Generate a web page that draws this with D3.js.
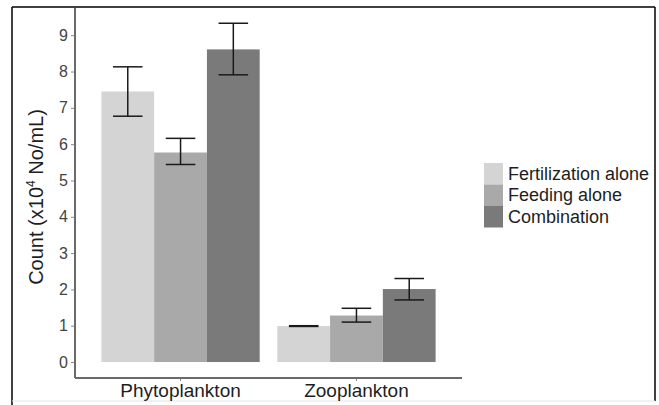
<!DOCTYPE html>
<html>
<head>
<meta charset="utf-8">
<script src="https://cdn.jsdelivr.net/npm/d3@7"></script>
<style>
  body { margin: 0; background: #fff; }
  text { font-family: Arial, "Liberation Sans", sans-serif; }
</style>
</head>
<body>
<div id="chart"></div>
<script>
const categories = ['Phytoplankton', 'Zooplankton'];
const seriesNames = ['Fertilization alone', 'Feeding alone', 'Combination'];
const meanValues = [
  [7.45, 5.77, 8.61],
  [0.99, 1.28, 2.01]
];
const lowValues = [
  [6.77, 5.44, 7.91],
  [0.98, 1.10, 1.71]
];
const highValues = [
  [8.13, 6.16, 9.33],
  [1.00, 1.48, 2.30]
];
const yTicks = [0, 1, 2, 3, 4, 5, 6, 7, 8, 9];
const fills = ['#d4d4d4', '#a9a9a9', '#7a7a7a'];

const width = 659, height = 405;
const svg = d3.select('#chart').append('svg')
    .attr('width', width)
    .attr('height', height);

// frame round the figure
svg.append('line').attr('x1', 12).attr('x2', 655).attr('y1', 7).attr('y2', 7)
  .attr('stroke', '#000').attr('stroke-width', 1.5);
svg.append('line').attr('x1', 12).attr('x2', 12).attr('y1', 7).attr('y2', 405)
  .attr('stroke', '#000').attr('stroke-width', 1.5);
svg.append('line').attr('x1', 655).attr('x2', 655).attr('y1', 7).attr('y2', 401)
  .attr('stroke', '#000').attr('stroke-width', 1.5);
svg.append('line').attr('x1', 12).attr('x2', 655).attr('y1', 401).attr('y2', 401)
  .attr('stroke', '#e4e4e4').attr('stroke-width', 1);

// scales
const x = d3.scaleBand()
  .domain(categories)
  .range([75, 462])
  .paddingInner(0.1)
  .paddingOuter(0.15);

const xs = d3.scaleBand()
  .domain(seriesNames)
  .range([0, x.bandwidth()]);

const y = d3.scaleLinear()
  .domain([-0.44, 9.75])
  .range([378, 8]);

// bars
const groups = svg.append('g')
  .selectAll('g')
  .data(categories)
  .enter().append('g')
    .attr('transform', d => `translate(${x(d)},0)`);

groups.each(function(cat, ci) {
  const g = d3.select(this);
  const rows = seriesNames.map((s, si) => ({
    s, si,
    mean: meanValues[ci][si],
    lo: lowValues[ci][si],
    hi: highValues[ci][si]
  }));

  g.selectAll('rect')
    .data(rows)
    .enter().append('rect')
      .attr('x', d => xs(d.s))
      .attr('width', xs.bandwidth())
      .attr('y', d => y(d.mean))
      .attr('height', d => y(0) - y(d.mean))
      .attr('fill', d => fills[d.si]);

  const capHalf = xs.bandwidth() * 0.28;
  const err = g.selectAll('g.err')
    .data(rows)
    .enter().append('g')
      .attr('class', 'err')
      .attr('stroke', '#1a1a1a')
      .attr('stroke-width', 1.5);

  err.append('line')
    .attr('x1', d => xs(d.s) + xs.bandwidth() / 2)
    .attr('x2', d => xs(d.s) + xs.bandwidth() / 2)
    .attr('y1', d => y(d.lo))
    .attr('y2', d => y(d.hi));
  err.append('line')
    .attr('x1', d => xs(d.s) + xs.bandwidth() / 2 - capHalf)
    .attr('x2', d => xs(d.s) + xs.bandwidth() / 2 + capHalf)
    .attr('y1', d => y(d.hi))
    .attr('y2', d => y(d.hi));
  err.append('line')
    .attr('x1', d => xs(d.s) + xs.bandwidth() / 2 - capHalf)
    .attr('x2', d => xs(d.s) + xs.bandwidth() / 2 + capHalf)
    .attr('y1', d => y(d.lo))
    .attr('y2', d => y(d.lo));
});

// y axis
const yAxis = svg.append('g')
  .attr('transform', 'translate(75,0)')
  .call(d3.axisLeft(y).tickValues(yTicks).tickSize(4).tickPadding(3));
yAxis.select('.domain').remove();
yAxis.selectAll('.tick line').attr('stroke', '#888').attr('stroke-width', 1);
yAxis.selectAll('.tick text')
  .attr('fill', '#444')
  .style('font-size', '16px')
  .style('font-family', 'Arial, "Liberation Sans", sans-serif');
svg.append('line')
  .attr('x1', 75).attr('x2', 75)
  .attr('y1', y.range()[1]).attr('y2', y.range()[0])
  .attr('stroke', '#6a6a6a').attr('stroke-width', 2);

// x axis
const xAxis = svg.append('g')
  .attr('transform', 'translate(0,378)')
  .call(d3.axisBottom(x).tickSize(3).tickPadding(5));
xAxis.select('.domain').remove();
xAxis.selectAll('.tick line').attr('stroke', '#888');
xAxis.selectAll('.tick text')
  .attr('fill', '#1e1e1e')
  .attr('dy', '0')
  .attr('y', 19)
  .style('font-size', '19px')
  .style('font-family', 'Arial, "Liberation Sans", sans-serif');
svg.append('line')
  .attr('x1', 75).attr('x2', 462)
  .attr('y1', 378).attr('y2', 378)
  .attr('stroke', '#6a6a6a').attr('stroke-width', 2);

// y title
const yTitle = svg.append('text')
  .attr('transform', 'translate(43,197) rotate(-90)')
  .attr('text-anchor', 'middle')
  .attr('fill', '#1e1e1e')
  .style('font-size', '20px');
yTitle.append('tspan').text('Count (x10');
yTitle.append('tspan').attr('dy', -8).style('font-size', '12px').text('4');
yTitle.append('tspan').attr('dy', 8).text(' No/mL)');

// legend
const legend = svg.append('g')
  .selectAll('g')
  .data(seriesNames)
  .enter().append('g')
    .attr('transform', (d, i) => `translate(484,${163 + i * 21.5})`);
legend.append('rect')
  .attr('width', 19)
  .attr('height', 21.5)
  .attr('fill', (d, i) => fills[i]);
legend.append('text')
  .attr('x', 24)
  .attr('y', 16.5)
  .attr('fill', '#1e1e1e')
  .style('font-size', '18px')
  .text(d => d);
</script>
</body>
</html>
